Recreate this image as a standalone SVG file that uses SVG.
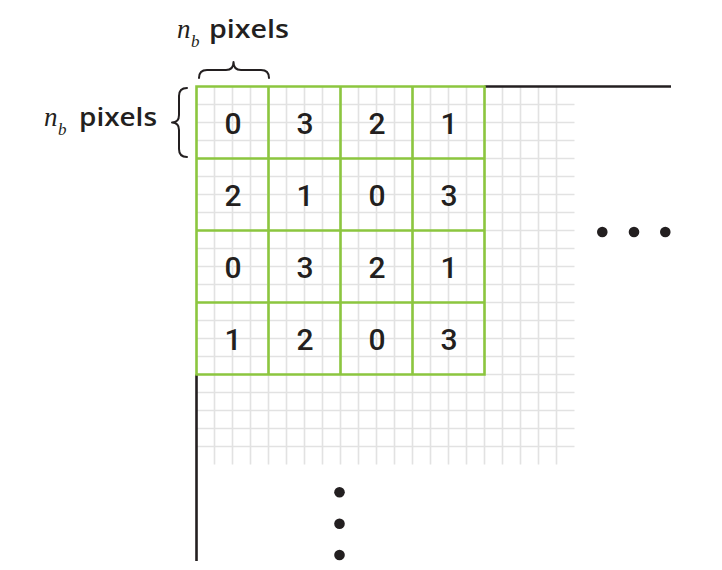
<svg xmlns="http://www.w3.org/2000/svg" width="722" height="570" viewBox="0 0 722 570">
<style>
.g{stroke:#e2e2e2;stroke-width:1.6;fill:none}
.gr{stroke:#8cc63f;stroke-width:2.6;fill:none}
.k{stroke:#231f20;stroke-width:2.6;fill:none}
.br{stroke:#231f20;stroke-width:2;fill:none;stroke-linecap:round;stroke-linejoin:round}
.d{font-family:Roboto,"Liberation Sans",sans-serif;font-weight:500;font-size:30px;fill:#231f20;text-anchor:middle}
.lab{font-family:"Open Sans","Liberation Sans",sans-serif;font-weight:600;font-size:25px;fill:#231f20}
.n{font-family:"Liberation Serif",serif;font-style:italic;font-size:27px;fill:#231f20}
.sub{font-family:"Liberation Serif",serif;font-style:italic;font-size:17px;fill:#231f20}
.dot{fill:#231f20}
</style>
<g id="fine-grid">
<path class="g" d="M214.5,86.5V464.5M232.5,86.5V464.5M250.5,86.5V464.5M268.5,86.5V464.5M286.5,86.5V464.5M304.5,86.5V464.5M322.5,86.5V464.5M340.5,86.5V464.5M358.5,86.5V464.5M376.5,86.5V464.5M394.5,86.5V464.5M412.5,86.5V464.5M430.5,86.5V464.5M448.5,86.5V464.5M466.5,86.5V464.5M484.5,86.5V464.5M502.5,86.5V464.5M520.5,86.5V464.5M538.5,86.5V464.5M556.5,86.5V464.5"/>
<path class="g" d="M196.5,104.5H574.5M196.5,122.5H574.5M196.5,140.5H574.5M196.5,158.5H574.5M196.5,176.5H574.5M196.5,194.5H574.5M196.5,212.5H574.5M196.5,230.5H574.5M196.5,248.5H574.5M196.5,266.5H574.5M196.5,284.5H574.5M196.5,302.5H574.5M196.5,320.5H574.5M196.5,338.5H574.5M196.5,356.5H574.5M196.5,374.5H574.5M196.5,392.5H574.5M196.5,410.5H574.5M196.5,428.5H574.5M196.5,446.5H574.5"/>
</g>
<g id="axes">
<path class="k" d="M484.5,86.5H671"/>
<path class="k" d="M196.5,374.5V561"/>
</g>
<g id="blocks">
<path class="gr" d="M196.5,86.5H484.5V374.5H196.5Z M268.5,86.5V374.5 M340.5,86.5V374.5 M412.5,86.5V374.5 M196.5,158.5H484.5 M196.5,230.5H484.5 M196.5,302.5H484.5"/>
</g>
<g id="values">
<text class="d" x="233" y="133.5">0</text><text class="d" x="305" y="133.5">3</text><text class="d" x="377" y="133.5">2</text><text class="d" x="449" y="133.5">1</text>
<text class="d" x="233" y="205.5">2</text><text class="d" x="305" y="205.5">1</text><text class="d" x="377" y="205.5">0</text><text class="d" x="449" y="205.5">3</text>
<text class="d" x="233" y="277.5">0</text><text class="d" x="305" y="277.5">3</text><text class="d" x="377" y="277.5">2</text><text class="d" x="449" y="277.5">1</text>
<text class="d" x="233" y="349.5">1</text><text class="d" x="305" y="349.5">2</text><text class="d" x="377" y="349.5">0</text><text class="d" x="449" y="349.5">3</text>
</g>
<g id="top-label">
<text class="n" x="177" y="38">n</text><text class="sub" x="191" y="47">b</text>
<text class="lab" x="209" y="38" textLength="80" lengthAdjust="spacingAndGlyphs">pixels</text>
<path class="br" d="M199,78 Q199,70 207,70 L226,70 Q233.5,70 233.5,62 Q233.5,70 241,70 L261,70 Q269,70 269,78"/>
</g>
<g id="left-label">
<text class="n" x="44" y="126">n</text><text class="sub" x="58" y="135">b</text>
<text class="lab" x="79" y="126" textLength="78" lengthAdjust="spacingAndGlyphs">pixels</text>
<path class="br" d="M187,88 Q179,88 179,96 L179,115 Q179,122.5 172,122.5 Q179,122.5 179,130 L179,149 Q179,157 187,157"/>
</g>
<g id="ellipses">
<circle class="dot" cx="602.3" cy="232" r="5.3"/><circle class="dot" cx="634" cy="232" r="5.3"/><circle class="dot" cx="665.3" cy="232" r="5.3"/>
<circle class="dot" cx="339.5" cy="492.3" r="5.3"/><circle class="dot" cx="339.5" cy="523.7" r="5.3"/><circle class="dot" cx="339.5" cy="555" r="5.3"/>
</g>
</svg>
